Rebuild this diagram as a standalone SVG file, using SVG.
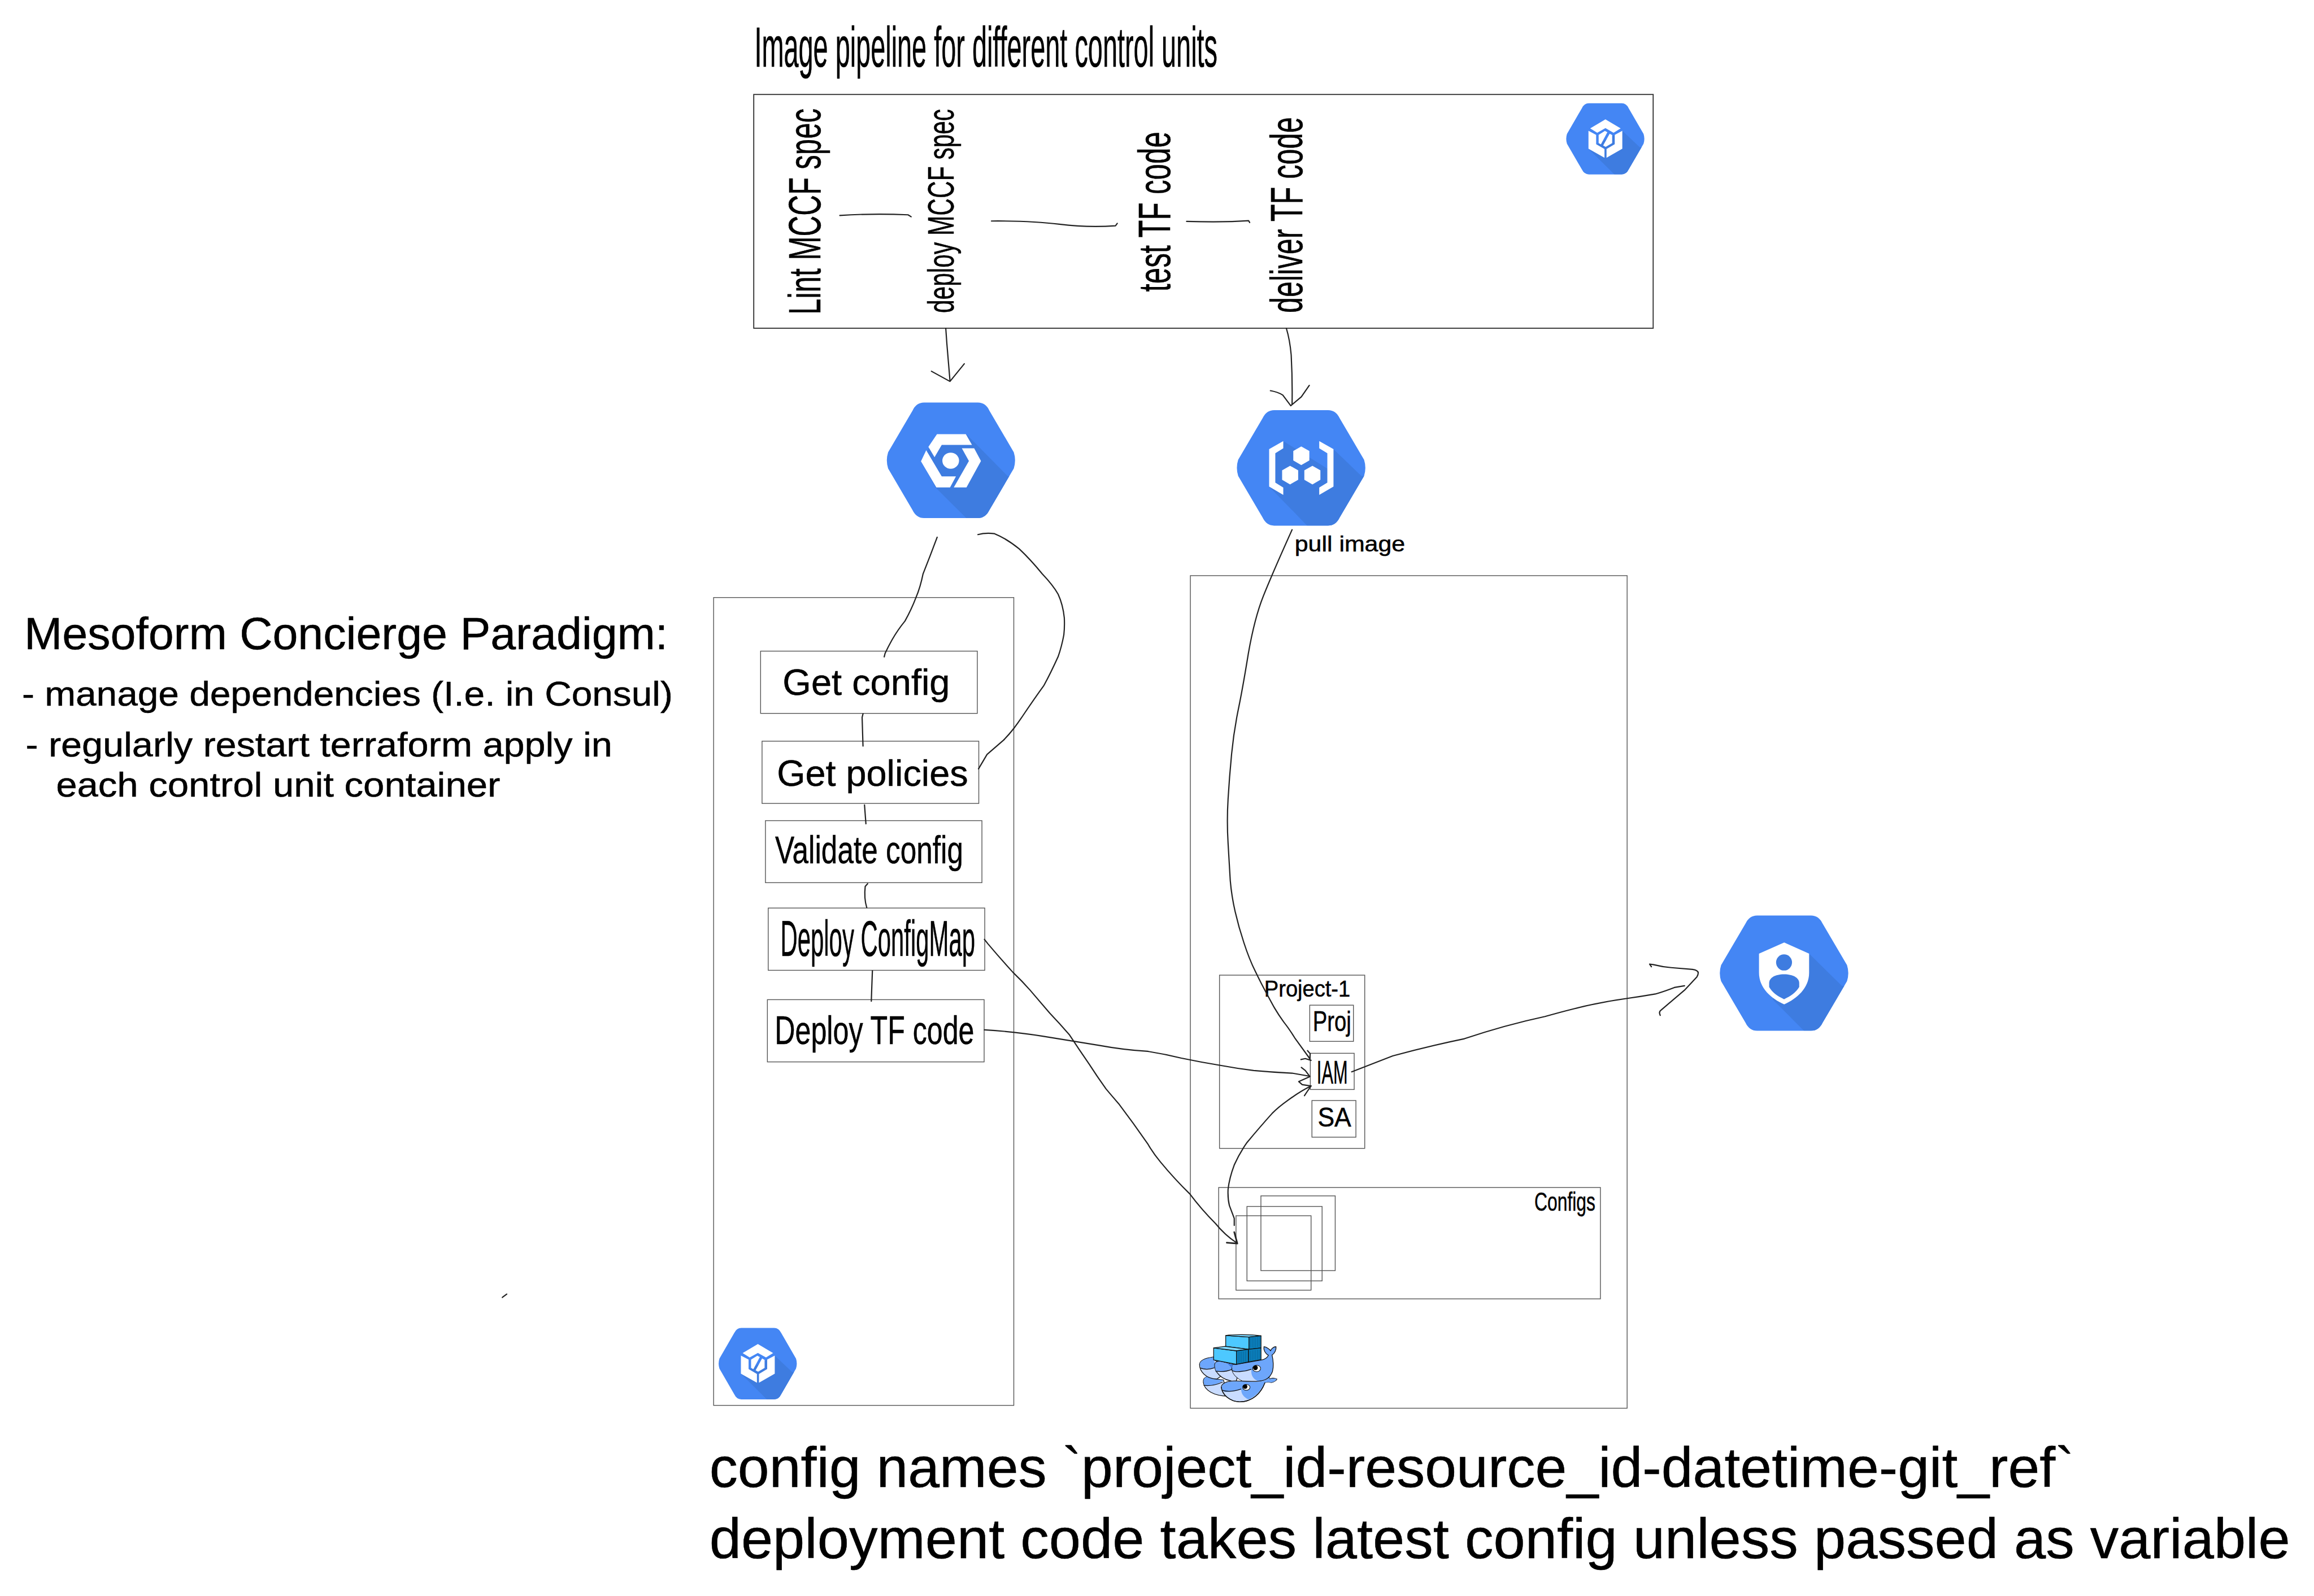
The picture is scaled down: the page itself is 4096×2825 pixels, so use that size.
<svg xmlns="http://www.w3.org/2000/svg" width="4096" height="2825" viewBox="0 0 4096 2825">
<style>
text{font-family:"Liberation Sans",Arial,Helvetica,sans-serif;fill:#000;stroke:#000;stroke-width:.7}
.box{fill:#fff;stroke:#555;stroke-width:1.8}
.frame{fill:none;stroke:#555;stroke-width:1.8}
.wire{fill:none;stroke:#222;stroke-width:2.8;stroke-linecap:round;stroke-linejoin:round}
.heavy{stroke-width:3.6}
.hexbase{fill:#4486f4}
.shade{fill:#3e7ce0}
.glyph{fill:#fff}
.ol{stroke:#111;stroke-width:5;stroke-linejoin:round}
</style>
<defs>
<path id="hex" d="M29,0L71,0Q77,0 80,7L99,43Q101,50 99,57L80,93Q77,100 71,100L29,100Q23,100 20,93L1,57Q-1,50 1,43L20,7Q23,0 29,0Z"/>
<clipPath id="hexclip"><use href="#hex"/></clipPath>
<g id="builder-icon">
<use href="#hex" class="hexbase"/>
<polygon class="shade" clip-path="url(#hexclip)" points="71.8,38.7 94,61.7 100,61.7 100,100 61.7,100 28.5,64"/>
<polygon class="glyph" points="50.2,22.6 69.7,35.2 60.6,41.4 50.2,35 39.7,41.4 30.7,35.2"/>
<polygon class="glyph" points="28.5,38.7 38.3,44.4 38.3,57.6 49,64.4 49,76.7 28.5,64"/>
<polygon class="glyph" points="71.8,38.7 62.1,44.4 62.1,57.6 51.6,64.4 51.6,76.7 71.8,64"/>
<polygon class="glyph" points="49.5,38.9 52.7,40.7 44.4,57.8 41.5,56 41.5,44.4"/>
<polygon class="glyph" points="55.6,42.8 58.8,44.7 58.8,56 50.5,61.3 47.3,59.3"/>
</g>
</defs>
<g transform="scale(0.78138)">
<rect x="0" y="0" width="5242" height="3615" fill="#fff"/>

<g id="left-notes">
<text x="55" y="1471" font-size="103" textLength="1458" lengthAdjust="spacingAndGlyphs">Mesoform Concierge Paradigm:</text>
<text x="50" y="1598" font-size="79" textLength="1474" lengthAdjust="spacingAndGlyphs">- manage dependencies (I.e. in Consul)</text>
<text x="58" y="1714" font-size="79" textLength="1329" lengthAdjust="spacingAndGlyphs">- regularly restart terraform apply in</text>
<text x="127" y="1805" font-size="79" textLength="1006" lengthAdjust="spacingAndGlyphs">each control unit container</text>
</g>

<g id="title">
<text x="1709" y="151" font-size="127" textLength="1049" lengthAdjust="spacingAndGlyphs">Image pipeline for different control units</text>
</g>

<g id="image-pipeline">
<rect x="1707.5" y="214" width="2037.5" height="529.5" fill="#fff" stroke="#333" stroke-width="2.4"/>
<text transform="translate(1858,713) rotate(-90) scale(0.639,1)" font-size="102">Lint MCCF spec</text>
<text transform="translate(2160,709) rotate(-90) scale(0.663,1)" font-size="82">deploy MCCF spec</text>
<text transform="translate(2651,661) rotate(-90) scale(0.642,1)" font-size="102">test TF code</text>
<text transform="translate(2950,709) rotate(-90) scale(0.633,1)" font-size="102">deliver TF code</text>
</g>
<g id="builder-top"><use href="#builder-icon" transform="translate(3548,234) scale(1.77,1.61)"/></g>

<g id="engine-icon" transform="translate(2009,912) scale(2.905,2.617)">
<use href="#hex" class="hexbase"/>
<polygon class="shade" clip-path="url(#hexclip)" points="62,27.3 94.2,63.6 100,63.6 100,100 62,100 37.9,73.4 26.6,50 39,30"/>
<polygon class="glyph" points="39.1,27.3 61.6,27.3 66.4,36.6 42.8,36.6 37.2,47.3 32.4,38.3"/>
<polygon class="glyph" points="30.7,41.3 42.8,63.9 53.9,63.9 49.3,73.4 38.6,73.4 26.6,50.8"/>
<polygon class="glyph" points="58.5,39.5 68.1,39.5 73.4,50.6 62.1,73.4 52.2,73.4 64,50.6"/>
<ellipse class="glyph" cx="49.8" cy="50.3" rx="6.5" ry="7"/>
</g>

<g id="registry-icon" transform="translate(2802,929) scale(2.91,2.617)">
<use href="#hex" class="hexbase"/>
<polygon class="shade" clip-path="url(#hexclip)" points="36.1,26.8 70.4,50.7 75.2,33.8 96.9,57 100,57 100,100 54.7,100 25.1,66.2 29.9,37"/>
<polygon class="glyph" points="36.1,26.8 36.1,33.1 29.9,37.3 29.9,62.8 36.1,67 36.1,73.4 25.1,66.2 25.1,33.8"/>
<polygon class="glyph" points="64.1,26.8 64.1,33.1 70.4,37.3 70.4,62.8 64.1,67 64.1,73.4 75.2,66.2 75.2,33.8"/>
<polygon class="glyph" points="50.1,31.5 56.4,35.4 56.4,43.6 50.1,47.6 43.9,43.6 43.9,35.4"/>
<polygon class="glyph" points="41.4,48.2 47.7,52.1 47.7,60.3 41.4,64.3 35.2,60.3 35.2,52.1"/>
<polygon class="glyph" points="58.8,48.2 65,52.1 65,60.3 58.8,64.3 52.5,60.3 52.5,52.1"/>
</g>

<g id="pull-image-label">
<text x="2933" y="1249" font-size="50" textLength="250" lengthAdjust="spacingAndGlyphs">pull image</text>
</g>

<g id="iam-icon" transform="translate(3896,2074) scale(2.91,2.61)">
<use href="#hex" class="hexbase"/>
<polygon class="shade" clip-path="url(#hexclip)" points="69.5,33 95,61 100,61 100,100 65.5,100 41,72.6"/>
<path class="glyph" d="M50.1,23.4L69.5,33L69.5,49.6C69.5,63 60,72 50.1,77.1C40,72 30.5,63 30.5,49.6L30.5,33Z"/>
<ellipse class="shade" cx="50" cy="40.7" rx="6.2" ry="7"/>
<path class="shade" d="M50,50.9C43,50.9 38.4,54 38.4,58.6L38.4,62C41,67 45,70 50,72.6C55,70 59,67 61.8,62L61.8,58.6C61.8,54 57,50.9 50,50.9Z"/>
</g>

<g id="control-unit">
<rect x="1616.6" y="1353.6" width="680" height="1830" class="frame"/>
<g id="get-config"><rect class="box" x="1723" y="1475" width="491" height="141"/>
<text x="1773" y="1574" font-size="83" textLength="379" lengthAdjust="spacingAndGlyphs">Get config</text></g>
<g id="get-policies"><rect class="box" x="1726.3" y="1679" width="491" height="141"/>
<text x="1760" y="1780" font-size="83" textLength="433" lengthAdjust="spacingAndGlyphs">Get policies</text></g>
<g id="validate-config"><rect class="box" x="1734" y="1859" width="490.4" height="140.5"/>
<text x="1756" y="1955" font-size="88" textLength="426" lengthAdjust="spacingAndGlyphs">Validate config</text></g>
<g id="deploy-configmap"><rect class="box" x="1740.3" y="2057" width="490.5" height="141"/>
<text x="1768" y="2166" font-size="114" textLength="441" lengthAdjust="spacingAndGlyphs">Deploy ConfigMap</text></g>
<g id="deploy-tf-code"><rect class="box" x="1738.4" y="2264.5" width="491" height="141"/>
<text x="1755" y="2365" font-size="89" textLength="452" lengthAdjust="spacingAndGlyphs">Deploy TF code</text></g>
</g>
<g id="builder-bottom"><use href="#builder-icon" transform="translate(1628,3008) scale(1.77,1.62)"/></g>

<g id="docker-container">
<rect x="2696.6" y="1304" width="989.4" height="1886" class="frame"/>
<g id="project-1"><rect x="2762.6" y="2209" width="329" height="392.4" class="frame"/>
<text x="2864" y="2258" font-size="53" textLength="195" lengthAdjust="spacingAndGlyphs">Project-1</text></g>
<g id="proj"><rect class="box" x="2967" y="2277" width="99" height="82"/>
<text x="2974" y="2335" font-size="64" textLength="87" lengthAdjust="spacingAndGlyphs">Proj</text></g>
<g id="iam"><rect class="box" x="2968.3" y="2386" width="99.4" height="82"/>
<text x="2983" y="2454" font-size="72.6" textLength="70" lengthAdjust="spacingAndGlyphs">IAM</text></g>
<g id="sa"><rect class="box" x="2972" y="2493" width="99.6" height="83"/>
<text x="2985" y="2552" font-size="62" textLength="76" lengthAdjust="spacingAndGlyphs">SA</text></g>
<g id="configs"><rect x="2760.7" y="2690" width="864.8" height="252.3" class="frame"/>
<text x="3476" y="2742" font-size="60" textLength="138" lengthAdjust="spacingAndGlyphs">Configs</text>
<rect x="2856.4" y="2709" width="168.3" height="169.3" class="frame"/>
<rect x="2824.8" y="2733" width="170.2" height="168.6" class="frame"/>
<rect x="2800" y="2754" width="170" height="168.6" class="frame"/>
</g>
</g>

<g id="docker-icon" transform="translate(2700,3000) scale(0.3333)">
<path class="ol" fill="#c9dcff" d="M78,395C75,370 90,358 110,353C140,370 170,375 215,378L240,488C150,485 85,450 78,395Z"/>
<path fill="#6da6fb" d="M80,390C78,370 90,358 110,355C140,370 170,375 215,380C190,400 150,418 85,415Z"/>
<path class="ol" fill="none" d="M80,415C120,420 170,410 210,392"/>
<path class="ol" fill="#c9dcff" d="M148,222C100,228 55,240 52,272C52,320 95,370 170,372L270,300L148,240Z"/>
<path fill="#6da6fb" d="M148,224C100,230 55,242 54,272C58,295 70,305 100,305C125,305 150,298 160,290L152,240Z"/>
<path class="ol" fill="none" d="M56,295C80,308 120,308 152,296"/>
<path class="ol" fill="#c9dcff" d="M155,272C150,310 190,385 300,388L330,300L275,272L190,250C170,252 158,258 155,272Z"/>
<path fill="#6da6fb" d="M157,272C156,290 160,310 165,320C205,325 245,318 275,300L275,272L190,252C170,254 158,258 157,272Z"/>
<path class="ol" fill="none" d="M160,318C205,325 245,318 275,305"/>
<path class="ol" fill="#6da6fb" d="M272,310C285,355 340,400 420,400C480,402 530,370 548,320C558,280 550,230 545,208C560,200 575,175 572,152C555,152 540,165 535,180C530,170 510,155 490,152C485,175 500,200 520,210C515,225 495,240 470,243L305,272L275,272C272,280 270,295 272,310Z"/>
<path fill="#c9dcff" d="M274,314C290,325 350,325 405,305C400,345 415,372 450,386C430,397 425,398 420,398C340,398 288,355 274,314Z"/>
<path class="ol" fill="none" d="M274,314C290,325 350,325 405,305"/>
<ellipse cx="440" cy="300" rx="27" ry="22" fill="#fff" stroke="#111" stroke-width="4"/>
<circle cx="432" cy="295" r="16" fill="#000"/>
<path class="ol" fill="#c9dcff" d="M200,425C205,480 260,525 325,527C410,527 470,470 497,395C510,392 528,392 540,395C560,392 575,380 578,372C560,365 540,365 528,372C525,365 525,360 525,358C510,375 480,388 420,388C370,388 330,385 290,385C240,385 205,400 200,425Z"/>
<path fill="#6da6fb" d="M202,425C205,440 210,450 220,458C260,462 300,452 335,440C335,470 350,495 385,510C430,495 470,450 495,398C510,392 528,392 540,395C560,392 575,380 576,372C560,367 540,367 530,374C526,368 525,364 525,362C510,378 480,391 420,391C370,391 330,388 290,388C240,388 207,402 202,425Z"/>
<path class="ol" fill="none" d="M205,448C250,462 300,452 335,440"/>
<path class="ol" fill="none" d="M200,425C205,480 260,525 325,527C410,527 470,470 497,395"/>
<ellipse cx="370" cy="428" rx="25" ry="20" fill="#fff" stroke="#111" stroke-width="4"/>
<circle cx="362" cy="423" r="15" fill="#000"/>
<path fill="#3e7ce0" d="M240,265L278,272L272,295Z"/>
<path class="ol" fill="#4dc8ff" d="M230,76L388,86L388,170L230,150Z"/>
<path class="ol" fill="#7fd8ff" d="M230,76C280,68 400,68 470,78L388,86Z"/>
<path class="ol" fill="#0a7fbb" d="M388,86L470,78L470,160L388,170Z"/>
<path class="ol" fill="#4dc8ff" d="M148,160L303,180L303,272L148,242Z"/>
<path class="ol" fill="#7fd8ff" d="M148,160L225,150L385,170L303,180Z"/>
<path class="ol" fill="#0a7fbb" d="M303,180L385,170L385,255L303,272Z"/>
<path class="ol" fill="#0a7fbb" d="M385,170L470,160L470,240L385,255Z"/>
<path fill="none" stroke="#0d5f94" stroke-width="3" d="M400,92V160M415,90V158M430,88V156M445,86V154M458,84V152M320,188V262M335,186V260M350,184V257M365,182V254M400,178V246M415,176V244M430,174V241M445,172V238M458,170V236"/>
</g>

<g id="bottom-notes">
<text x="1607" y="3369" font-size="127" textLength="3092" lengthAdjust="spacingAndGlyphs">config names `project_id-resource_id-datetime-git_ref`</text>
<text x="1607" y="3530" font-size="127" textLength="3581" lengthAdjust="spacingAndGlyphs">deployment code takes latest config unless passed as variable</text>
</g>

<g id="connectors">
<path class="wire" d="M1902.5,488Q1980,483 2057,486.6L2064,491"/>
<path class="wire" d="M2246,500.7Q2337.5,500 2400,508Q2464,516 2527,511.5L2531,506"/>
<path class="wire" d="M2688,501.5Q2772,504 2828.5,500L2831,504"/>
<path class="wire" d="M2142.5,743.6L2145,779L2152,862"/>
<path class="wire" d="M2110,841L2152,864L2184.5,824"/>
<path class="wire" d="M2914,743.6Q2922,770 2925,804Q2928,860 2927,916"/>
<path class="wire" d="M2878,885Q2895,888 2906,895L2924,919L2948,899L2966,873"/>
<path class="wire" d="M2123,1217Q2107,1260 2091,1300Q2085,1330 2075,1353.6Q2065,1380 2050,1407Q2035,1425 2021,1449Q2012,1465 2005,1480L2003,1488"/>
<path class="wire" d="M2215.4,1211Q2234,1206 2253,1209Q2280,1220 2309,1243.5Q2335,1268 2361,1300Q2385,1325 2397,1346Q2408,1370 2411,1399.5Q2412,1420 2410,1438Q2405,1465 2397,1487.5Q2380,1525 2365,1552.5Q2345,1580 2320,1617Q2308,1635 2296.7,1650Q2285,1665 2273,1677L2236,1709L2216.7,1741.7"/>
<path class="wire" d="M1955,1617L1953,1625L1955,1690"/>
<path class="wire" d="M1958.4,1823.5L1961.6,1866"/>
<path class="wire" d="M1965.5,2001.8L1960,2008Q1957,2035 1963.5,2056"/>
<path class="wire" d="M1976.3,2199L1975,2233.7L1973.8,2268"/>
<path class="wire" d="M2230,2128L2238,2138Q2265,2170 2295,2203Q2315,2222 2333.5,2243Q2355,2268 2378,2295Q2400,2318 2423,2344.6Q2445,2378 2467,2410Q2485,2438 2505.7,2467Q2520,2484 2534,2500Q2568,2545 2600,2591Q2612,2612 2628.7,2632Q2660,2670 2695.7,2705Q2722,2740 2753,2771Q2775,2798 2801,2815"/>
<path class="wire heavy" d="M2779,2815L2803,2817L2796,2791"/>
<path class="wire" d="M2230,2333Q2300,2337 2360,2347Q2429,2358 2490,2368Q2544,2378 2600,2381.6Q2640,2388 2676.5,2397Q2720,2406 2762.6,2413Q2800,2420 2840,2425Q2883,2429 2927,2431L2967,2438"/>
<path class="wire" d="M2948,2418L2957,2425L2966,2437"/>
<path class="wire" d="M2967,2439L2942,2450L2950,2457L2969,2460"/>
<path class="wire" d="M2927,1200Q2882,1300 2862,1350Q2842,1400 2828,1480Q2815,1560 2805,1608Q2795,1657 2790,1708Q2785,1760 2782,1810Q2779,1860 2782,1910Q2785,1960 2787,1995Q2790,2030 2798,2065Q2806,2100 2818,2136Q2830,2173 2844,2201Q2858,2230 2868,2248Q2878,2267 2887,2283Q2897,2300 2908,2315Q2920,2330 2933,2351L2967,2398"/>
<path class="wire" d="M2947,2400L2957,2398L2970,2402"/>
<path class="wire" d="M2962,2380L2968,2387L2967,2398"/>
<path class="wire" d="M2970,2460Q2945,2472 2917,2493Q2896,2508 2882,2522Q2855,2552 2825,2588Q2808,2612 2796,2639Q2785,2668 2782,2694Q2781,2715 2785,2731L2796,2760L2796,2776"/>
<path class="wire" d="M2955,2482L2963,2470L2970,2460"/>
<path class="wire" d="M3062,2428Q3108,2410 3155,2392Q3235,2370 3317.5,2353Q3410,2322 3500,2302.7Q3530,2294 3566,2285Q3625,2270 3686,2261.7Q3720,2257 3750,2251.7Q3770,2246 3793,2237L3816,2233"/>
<path class="wire" d="M3741,2190L3737,2184L3745,2185Q3765,2190 3786,2192Q3810,2194 3834,2196Q3847,2198 3847,2204Q3847,2208 3844,2213L3816,2243L3763,2288Q3757,2292 3761,2300"/>
<path class="wire" d="M1138,2939L1148,2931.6"/>
</g>
</g>
</svg>
